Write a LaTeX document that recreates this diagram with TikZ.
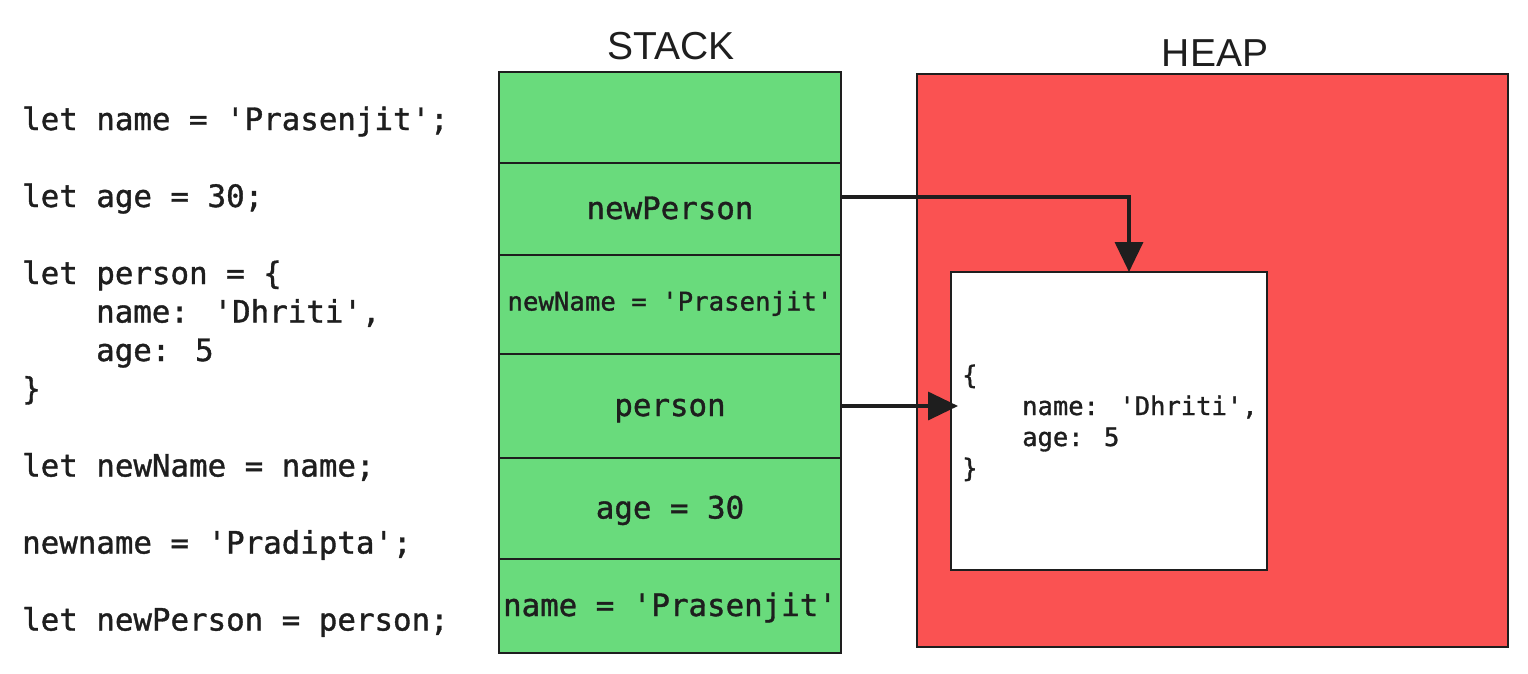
\documentclass[tikz,border=0pt]{standalone}
\usepackage{fontspec}
\setmainfont{Liberation Sans}
\newfontfamily\codefont[FakeBold=1.2]{DejaVu Sans Mono}
\usepackage{xcolor}
\definecolor{stackgreen}{HTML}{69DB7C}
\definecolor{heapred}{HTML}{FA5252}
\definecolor{ink}{HTML}{1E1E1E}
\usetikzlibrary{positioning,arrows.meta}

\tikzset{
  code/.style={anchor=base west, inner sep=0, text=ink, font=\codefont\fontsize{30.8}{38.5}\selectfont},
  small code/.style={code, font=\codefont\fontsize{25.5}{31}\selectfont},
  cell/.style={draw=ink, line width=1.5pt, fill=stackgreen, minimum width=342, inner sep=0, outer sep=0, text height=20, text depth=0, text=ink, font=\codefont\fontsize{30.8}{38.5}\selectfont},
  title/.style={anchor=base, inner sep=0, text=ink, font=\fontsize{39}{40}\selectfont},
  ptr/.style={draw=ink, line width=3.5pt, -{Triangle[length=30pt, width=28pt]}}
}

\begin{document}
\begin{tikzpicture}[x=1pt, y=-1pt]
				\useasboundingbox (0,0) rectangle (1528,673);
				\node[code] (l1) at (22,130) {let name = 'Prasenjit';};
				\node[code] (l2) at (22,207) {let age = 30;};
				\node[code] (l3) at (22,284) {let person = \{};
				\node[code] (l4) at (96,322.5) {name: 'Dhriti',};
				\node[code] (l5) at (96,361) {age: 5};
				\node[code] (l6) at (22,399.5) {\}};
				\node[code] (l7) at (22,476.5) {let newName = name;};
				\node[code] (l8) at (22,553.5) {newname = 'Pradipta';};
				\node[code] (l9) at (22,630.5) {let newPerson = person;};

				\node[title] (stacktitle) at (671,59) {STACK};
				\node[title] (heaptitle) at (1215,66) {HEAP};

				\node[cell, minimum height=91, anchor=north west] (empty) at (499,72) {};
				\node[cell, minimum height=92, below=0pt of empty] (newperson) {newPerson};
				\node[cell, minimum height=99, below=0pt of newperson, text height=12, font=\codefont\fontsize{25.7}{30}\selectfont] (newname) {newName = 'Prasenjit'};
				\node[cell, minimum height=104, below=0pt of newname] (person) {person};
				\node[cell, minimum height=101, below=0pt of person] (age) {age = 30};
				\node[cell, minimum height=94, below=0pt of age] (name) {name = 'Prasenjit'};

				\draw[draw=ink, line width=1.5pt, fill=heapred] (917,74) rectangle (1508,647);
				\draw[draw=ink, line width=1.5pt, fill=white] (951,272) rectangle (1267,570);
				\coordinate (obj) at (951,272);
				\node[small code] (o1) at (962,384) {\{};
				\node[small code] (o2) at (1022,415) {name: 'Dhriti',};
				\node[small code] (o3) at (1022,446) {age: 5};
				\node[small code] (o4) at (962,477) {\}};

				\coordinate (objtop) at (1129,272);
				\draw[ptr] ([yshift=12pt]newperson.east) -| (objtop);
				\draw[ptr] (person.east) -- ([xshift=7pt]person.east -| obj);
			\end{tikzpicture}
\end{document}
